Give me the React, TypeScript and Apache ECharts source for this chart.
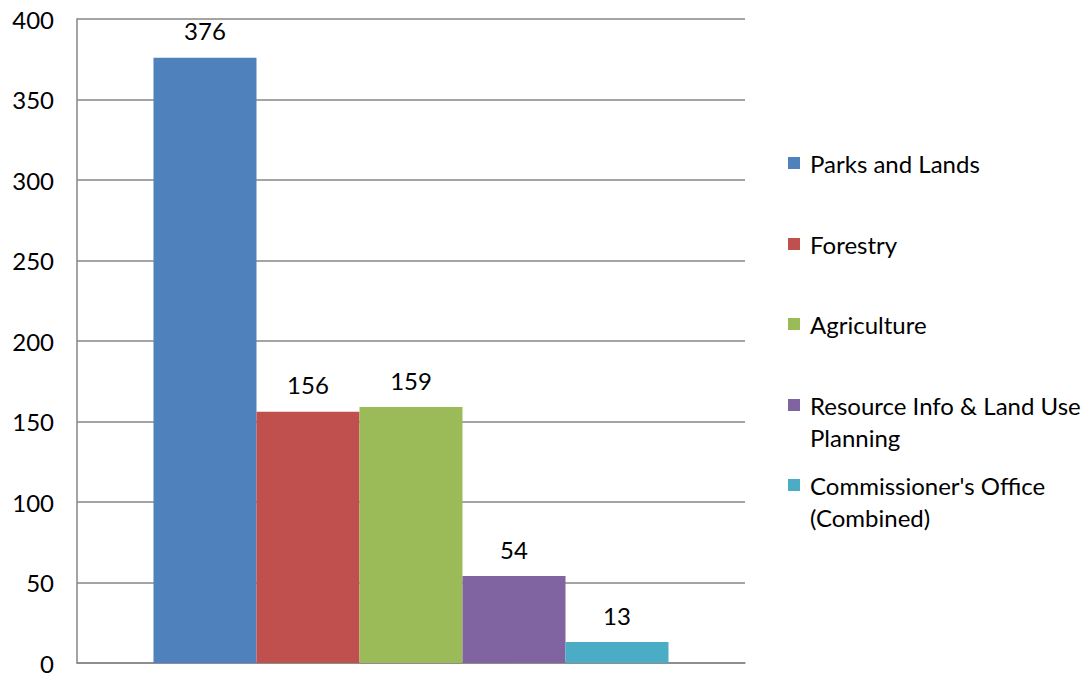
import React, { useEffect, useRef } from "react";
import * as echarts from "echarts";

const categories = [""];
const seriesNames = [
  "Parks and Lands",
  "Forestry",
  "Agriculture",
  "Resource Info & Land Use Planning",
  "Commissioner's Office (Combined)",
];
const legendLines = [
  ["Parks and Lands"],
  ["Forestry"],
  ["Agriculture"],
  ["Resource Info & Land Use", "Planning"],
  ["Commissioner's Office", "(Combined)"],
];
const seriesValues = [376, 156, 159, 54, 13];
const seriesColors = ["#4F81BD", "#C0504D", "#9BBB59", "#8064A2", "#4BACC6"];
const yTicks = [0, 50, 100, 150, 200, 250, 300, 350, 400];

const FONT = "Lato";

export default function App() {
  const ref = useRef<HTMLDivElement>(null);
  useEffect(() => {
    if (!ref.current) return;
    const chart = echarts.init(ref.current, null, { renderer: "svg" });
    const legendIconY = [163, 244, 324, 405, 485];
    const LH = 32;
    const legends = seriesNames.map((name, i) => {
      const lines = legendLines[i];
      const multi = lines.length > 1;
      const text = (multi ? "{t| }\n" : "") + lines.map((l) => `{t|${l}}`).join("\n");
      return {
        show: true,
        orient: "vertical",
        left: 788,
        top: multi ? legendIconY[i] - 1.5 * LH : legendIconY[i] - LH / 2,
        padding: 0,
        itemWidth: 12,
        itemHeight: 12,
        icon: "rect",
        selectedMode: false,
        data: [name],
        formatter: () => text,
        textStyle: {
          fontFamily: FONT,
          fontSize: 24,
          color: "#000",
          lineHeight: LH,
          rich: {
            t: {
              fontFamily: FONT,
              fontSize: 24,
              color: "#000",
              lineHeight: LH,
              padding: [0, 0, 0, 5],
            },
          },
        },
      };
    });
    chart.setOption({
      animation: false,
      backgroundColor: "#fff",
      grid: { left: 77, right: 346, top: 19, bottom: 18, containLabel: false },
      legend: legends,
      xAxis: {
        type: "category",
        data: categories,
        axisLine: { show: true, lineStyle: { color: "#868686", width: 1.5 } },
        axisTick: { show: false },
        axisLabel: { show: false },
      },
      yAxis: {
        type: "value",
        min: yTicks[0],
        max: yTicks[yTicks.length - 1],
        interval: 50,
        axisLine: { show: true, lineStyle: { color: "#868686", width: 1.5 } },
        axisTick: { show: false },
        axisLabel: {
          fontFamily: FONT,
          fontSize: 24,
          color: "#000",
          margin: 23,
        },
        splitLine: { show: true, lineStyle: { color: "#868686", width: 1.5 } },
      },
      series: seriesNames.map((name, i) => ({
        type: "bar",
        name,
        data: [seriesValues[i]],
        barGap: "0%",
        barCategoryGap: "22.9%",
        itemStyle: { color: seriesColors[i] },
        label: {
          show: true,
          position: "top",
          distance: 15,
          fontFamily: FONT,
          fontSize: 24,
          color: "#000",
        },
      })),
    });
    return () => chart.dispose();
  }, []);
  return (
    <div
      ref={ref}
      style={{ position: "absolute", left: 0, top: 0, width: 1091, height: 681 }}
    />
  );
}
